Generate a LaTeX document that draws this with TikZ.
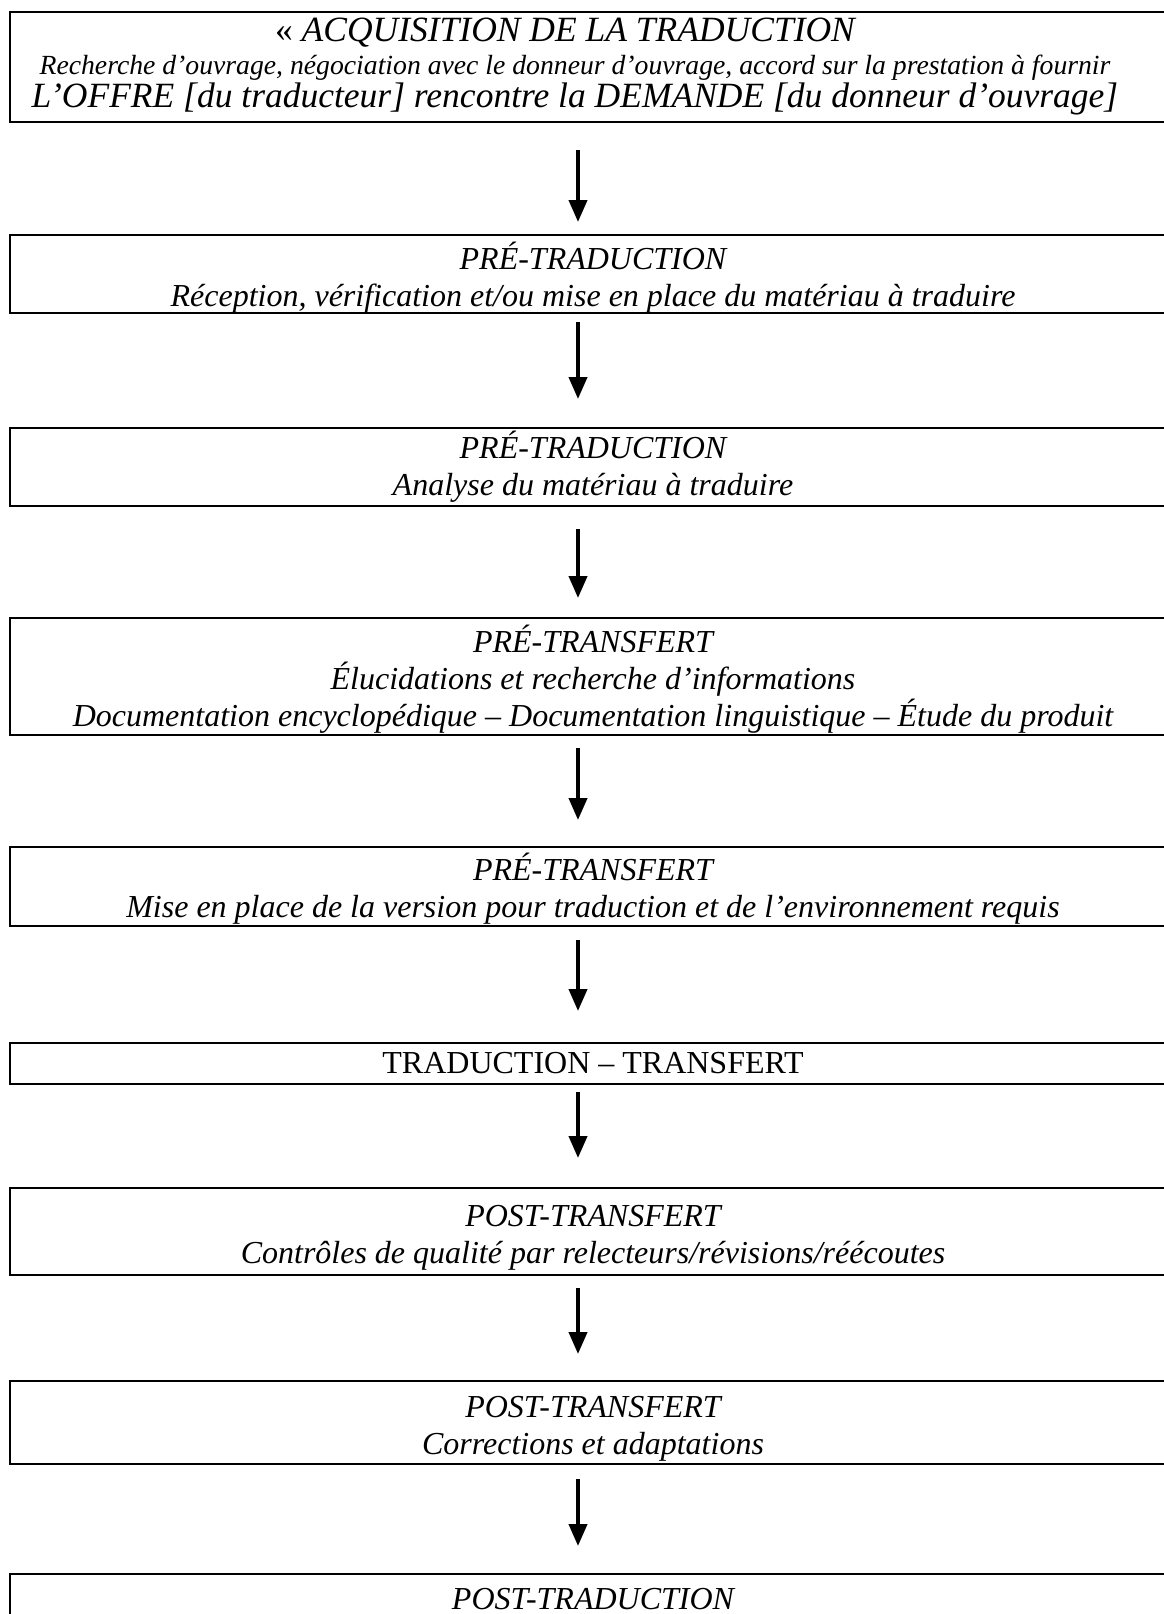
\documentclass[tikz,border=0pt]{standalone}
\usepackage{fontspec}
\setmainfont{Liberation Serif}
\usetikzlibrary{arrows.meta, positioning}

\tikzset{
  stage/.style={draw, line width=2pt, inner sep=0pt, outer sep=0pt,
    minimum width=1166pt, align=center,
    font=\fontsize{32}{37}\selectfont\itshape},
  flow/.style={line width=4pt, -{Triangle[width=18pt,length=22pt]}}
}

\begin{document}
\begin{tikzpicture}[x=1pt, y=-1pt]
   \useasboundingbox (0,0) rectangle (1164,1614);
   \coordinate (ax) at (578,0);

   \node[stage, minimum height=110pt, font=\fontsize{35.5}{33}\selectfont\itshape] (acq) at (593,67)
     {{\upshape «} ACQUISITION DE LA TRADUCTION\kern56pt\\
      {\fontsize{27.7}{30}\selectfont Recherche d’ouvrage, négociation avec le donneur d’ouvrage, accord sur la prestation à fournir}\kern36pt\\
      L’OFFRE [du traducteur] rencontre la DEMANDE [du donneur d’ouvrage]\kern36pt};
   \node[stage, minimum height=78pt] (pretrad1) [below=113pt of acq]
     {\rule{0pt}{34pt}PRÉ-TRADUCTION\\ Réception, vérification et/ou mise en place du matériau à traduire};
   \node[stage, minimum height=78pt] (pretrad2) [below=115pt of pretrad1]
     {PRÉ-TRADUCTION\\ Analyse du matériau à traduire};
   \node[stage, minimum height=117pt] (pretrans1) [below=112pt of pretrad2]
     {\rule{0pt}{33pt}PRÉ-TRANSFERT\\ Élucidations et recherche d’informations\\
      Documentation encyclopédique – Documentation linguistique – Étude du produit};
   \node[stage, minimum height=79pt] (pretrans2) [below=112pt of pretrans1]
     {\rule{0pt}{32pt}PRÉ-TRANSFERT\\ Mise en place de la version pour traduction et de l’environnement requis};
   \node[stage, minimum height=41pt, font=\fontsize{32}{37}\selectfont] (trad) [below=117pt of pretrans2]
     {TRADUCTION – TRANSFERT};
   \node[stage, minimum height=87pt] (posttrans1) [below=104pt of trad]
     {\rule{0pt}{33pt}POST-TRANSFERT\\ Contrôles de qualité par relecteurs/révisions/réécoutes};
   \node[stage, minimum height=83pt] (posttrans2) [below=106pt of posttrans1]
     {\rule{0pt}{33pt}POST-TRANSFERT\\ Corrections et adaptations};
   \node[stage, text height=35pt, text depth=20pt] (posttrad) [below=110pt of posttrans2]
     {POST-TRADUCTION};

   \draw[flow, shorten <=28pt, shorten >=13pt] (acq.south -| ax) -- (pretrad1.north -| ax);
   \draw[flow, shorten <=9pt, shorten >=29pt] (pretrad1.south -| ax) -- (pretrad2.north -| ax);
   \draw[flow, shorten <=23pt, shorten >=20pt] (pretrad2.south -| ax) -- (pretrans1.north -| ax);
   \draw[flow, shorten <=13pt, shorten >=27pt] (pretrans1.south -| ax) -- (pretrans2.north -| ax);
   \draw[flow, shorten <=14pt, shorten >=32pt] (pretrans2.south -| ax) -- (trad.north -| ax);
   \draw[flow, shorten <=8pt, shorten >=30pt] (trad.south -| ax) -- (posttrans1.north -| ax);
   \draw[flow, shorten <=13pt, shorten >=27pt] (posttrans1.south -| ax) -- (posttrans2.north -| ax);
   \draw[flow, shorten <=15pt, shorten >=28pt] (posttrans2.south -| ax) -- (posttrad.north -| ax);
\end{tikzpicture}
\end{document}
